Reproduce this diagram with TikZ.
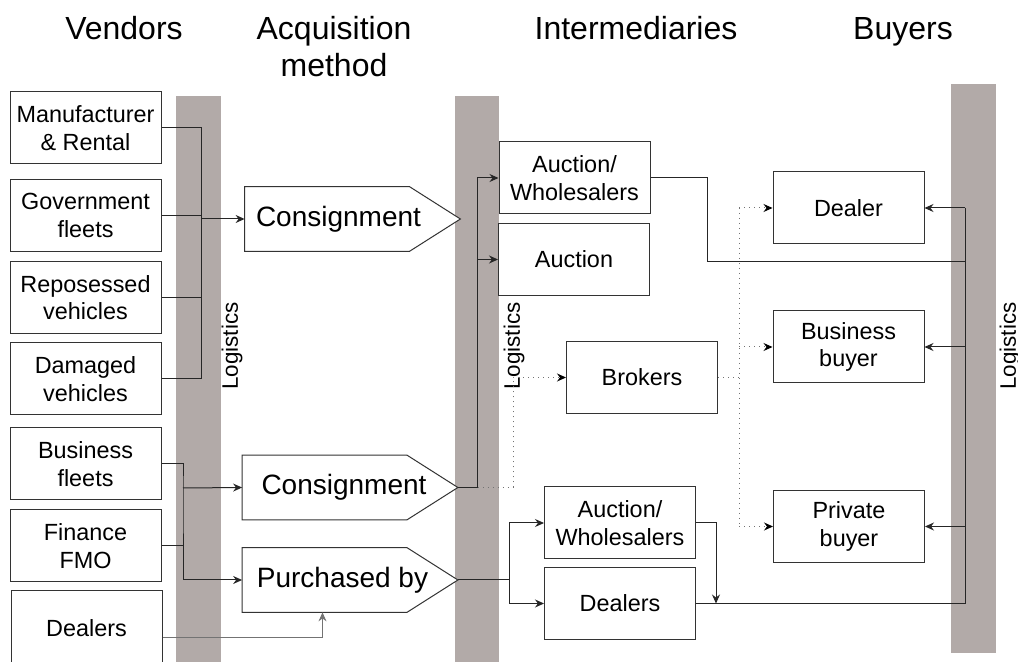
\documentclass[tikz,border=0pt]{standalone}
\usepackage{fontspec}
\setmainfont{Liberation Sans}
\usetikzlibrary{arrows.meta, calc}
\usetikzlibrary{positioning}
\definecolor{logigrey}{RGB}{178,170,168}
\tikzstyle{flow_box} = [
    rectangle,
    draw=black!80,
    line width=0.5pt,
    fill=white,
    align=center,
    inner sep=0pt, % boxes are all the same size
    minimum width=75.5pt,
    minimum height=36pt,
    font=\fontsize{11.7}{13.7}\selectfont
]
\tikzstyle{method_box} = [
    rectangle,
    inner sep=0pt,
    minimum width=82pt,
    minimum height=32pt
]
\tikzstyle{method_text} = [
    inner sep=0pt,
    font=\fontsize{14}{16}\selectfont
]
\tikzstyle{heading} = [
    align=center,
    anchor=north,
    inner sep=0pt,
    font=\fontsize{16}{18.5}\selectfont
]
\tikzstyle{logistics} = [
    rotate=90,
    inner sep=0pt,
    font=\fontsize{11.2}{13}\selectfont
]
\tikzstyle{bar} = [fill=logigrey, draw=none]
\tikzstyle{outline} = [line width=0.5pt, draw=black!80, fill=white]
\tikzstyle{link} = [line width=0.5pt, draw=black!85]
\tikzstyle{arrow_link} = [
    link,
    -{Stealth[length=4.5pt, width=4pt, inset=1.5pt]}
]
\tikzstyle{dot_link} = [line width=0.5pt, draw=black!55, dotted]
\tikzstyle{dot_arrow} = [
    dot_link,
    -{Stealth[length=4.5pt, width=4pt, inset=1.5pt, color=black]}
]

\begin{document}
\begin{tikzpicture}[x=0.5pt, y=-0.5pt]
\useasboundingbox (0,0) rectangle (1018,662);
\fill[white] (0,0) rectangle (1018,662);

% logistics bars
\fill[bar] (176,96) rectangle (221,670);
\fill[bar] (455,96) rectangle (499,670);
\fill[bar] (951,84) rectangle (996,653);
\node[logistics] (log1) at (232,346) {Logistics};
\node[logistics] (log2) at (514,346) {Logistics};
\node[logistics] (log3) at (1010,346) {Logistics};

% column headings
\node[heading] (hvend) at (124,16) {Vendors};
\node[heading] (hacq) at (334,16) {Acquisition\\method};
\node[heading] (hint) at (636,16) {Intermediaries};
\node[heading] (hbuy) at (903,17) {Buyers};

% vendors
\node[flow_box] (vman) at (85.5,128) {Manufacturer\\\& Rental};
\node[flow_box] (vgov) at (85.5,215.5) {Government\\fleets};
\node[flow_box] (vrep) at (85.5,297.5) {Reposessed\\vehicles};
\node[flow_box] (vdam) at (85.5,379) {Damaged\\vehicles};
\node[flow_box] (vbus) at (85.5,464) {Business\\fleets};
\node[flow_box] (vfin) at (85.5,546) {Finance\\FMO};
\node[flow_box, minimum height=37pt] (vdea) at (86.5,628) {Dealers};

% acquisition method
\node[method_box] (mcon1) at (327,219) {};
\node[method_box] (mcon2) at (324.5,487.5) {};
\node[method_box] (mpur) at (324.5,580) {};
\foreach \m in {mcon1, mcon2, mpur} {
    \coordinate (\m tip) at ([xshift=25.5pt]\m.east);
    \draw[outline] (\m.north west) -- (\m.north east) -- (\m tip)
        -- (\m.south east) -- (\m.south west) -- cycle;
}
\node[method_text] (mcon1t) at ([xshift=5.75pt]mcon1.center) {Consignment};
\node[method_text] (mcon2t) at ([xshift=9.75pt]mcon2.center) {Consignment};
\node[method_text] (mpurt) at ([xshift=9pt]mpur.center) {Purchased by};

% intermediaries
\node[flow_box] (iaw1) at (574.5,178) {Auction/\\Wholesalers};
\node[flow_box] (iauc) at (574,259.5) {Auction};
\node[flow_box] (ibro) at (642,377.5) {Brokers};
\node[flow_box] (iaw2) at (620,523) {Auction/\\Wholesalers};
\node[flow_box] (idea) at (620,603.5) {Dealers};

% buyers
\node[flow_box] (bdea) at (848.5,208) {Dealer};
\node[flow_box] (bbus) at (848.5,347) {Business\\buyer};
\node[flow_box] (bpri) at (849,526.5) {Private\\buyer};

% bend points
\coordinate (j1) at (201,219);
\coordinate (j2) at (183,488);
\coordinate (j3) at (183,580);
\coordinate (k1) at (477,0);
\coordinate (k2) at (513,0);
\coordinate (k3) at (965,262);
\coordinate (k4) at (707,262);
\coordinate (k5) at (716,0);
\coordinate (k6) at (509,0);
\coordinate (k7) at (739,0);

% vendors -> method
\foreach \v in {vman, vgov, vrep, vdam}
    \draw[link] (\v.east) -| (j1);
\draw[arrow_link] (j1) -- (mcon1.west);
\draw[link] (vbus.east) -| (j2) -- (j3);
\draw[link] (vfin.east) -| (j3);
\draw[arrow_link] (j2) -- (mcon2.west);
\draw[arrow_link] (j3) -- (mpur.west);
\draw[arrow_link, draw=black!55] ($(vdea.east)+(0,9)$) -| ([xshift=-1pt]mpur.south);

% method -> intermediaries
\draw[dot_link] (mcon2tip) -- (mcon2tip -| k2);
\draw[dot_arrow] (mcon2tip -| k2) |- (ibro.west);
\draw[arrow_link] (mcon2tip) -| (iaw1.west -| k1) -- (iaw1.west);
\draw[arrow_link] (iauc.west -| k1) -- (iauc.west);
\draw[link] (mpurtip) -- (mpurtip -| k6);
\draw[arrow_link] (mpurtip -| k6) |- (iaw2.west);
\draw[arrow_link] (mpurtip -| k6) |- (idea.west);

% intermediaries -> buyers
\draw[link] (iaw1.east) -| (k4) -- (k3);
\draw[link] (bdea.east -| k3) -- (idea.east -| k3) -- (idea.east);
\draw[arrow_link] (iaw2.east) -| (idea.east -| k5);
\foreach \b in {bdea, bbus, bpri}
    \draw[arrow_link] (\b.east -| k3) -- (\b.east);
\draw[dot_link] (ibro.east) -- (ibro.east -| k7);
\draw[dot_link] (bdea.west -| k7) -- (bpri.west -| k7);
\foreach \b in {bdea, bbus, bpri}
    \draw[dot_arrow] (\b.west -| k7) -- (\b.west);
\end{tikzpicture}
\end{document}
